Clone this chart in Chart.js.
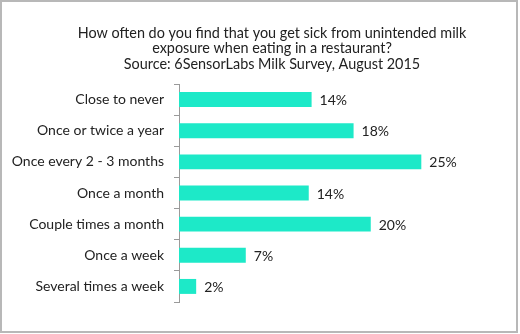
<!DOCTYPE html>
<html>
<head>
<meta charset="utf-8">
<script src="https://cdn.jsdelivr.net/npm/chart.js@4"></script>
<style>
  body { margin: 0; background: #fff; }
  #frame {
    position: absolute; left: 0; top: 0;
    width: 518px; height: 333px;
    box-sizing: border-box;
    border: 2px solid #b8b8b8;
  }
  #frame canvas { display: block; }
</style>
</head>
<body>
<div id="frame"><canvas id="chart" width="514" height="329"></canvas></div>
<script>
// survey answers, top to bottom
const categories = [
  'Close to never',
  'Once or twice a year',
  'Once every 2 - 3 months',
  'Once a month',
  'Couple times a month',
  'Once a week',
  'Several times a week'
];
// share of respondents (%)
const shares = [13.9, 18.3, 25.4, 13.6, 20.1, 7.0, 1.8];

const titleLines = [
  'How often do you find that you get sick from unintended milk',
  'exposure when eating in a restaurant?',
  'Source: 6SensorLabs Milk Survey, August 2015'
];

const font = 'Lato';
const textColor = '#222';

// percent labels at the end of each bar
const valueLabels = {
  id: 'valueLabels',
  afterDatasetsDraw(chart) {
    const ctx = chart.ctx;
    const meta = chart.getDatasetMeta(0);
    ctx.save();
    ctx.font = '14px ' + font;
    ctx.fillStyle = textColor;
    ctx.textBaseline = 'middle';
    ctx.textAlign = 'left';
    meta.data.forEach((bar, i) => {
      ctx.fillText(Math.round(shares[i]) + '%', bar.x + 8, bar.y + 1);
    });
    ctx.restore();
  }
};

// the title in the original sits a little right of the canvas centre
const shiftTitle = {
  id: 'shiftTitle',
  afterLayout(chart) {
    if (chart.titleBlock) chart.titleBlock.left += 52;
  }
};

new Chart(document.getElementById('chart'), {
  type: 'bar',
  data: {
    labels: categories,
    datasets: [{
      data: shares,
      backgroundColor: '#1de9c8',
      borderWidth: 0,
      categoryPercentage: 1,
      barPercentage: 0.48
    }]
  },
  options: {
    indexAxis: 'y',
    responsive: false,
    animation: false,
    layout: { padding: { left: 0, right: 26, top: 0, bottom: 29 } },
    scales: {
      x: { display: false, min: 0, max: 32.6 },
      y: {
        afterFit(scale) { scale.width = 177; },
        grid: {
          drawOnChartArea: false,
          drawTicks: true,
          tickLength: 5,
          color: '#9a9a9a'
        },
        border: { display: true, color: '#9a9a9a', width: 1 },
        ticks: {
          padding: 10,
          color: textColor,
          font: { family: font, size: 14 }
        }
      }
    },
    plugins: {
      legend: { display: false },
      tooltip: { enabled: false },
      title: {
        display: true,
        text: titleLines,
        color: textColor,
        font: { family: font, size: 14.4, weight: 'normal', lineHeight: 1.1 },
        padding: { top: 23, bottom: 11.5 }
      }
    }
  },
  plugins: [valueLabels, shiftTitle]
});
</script>
</body>
</html>
